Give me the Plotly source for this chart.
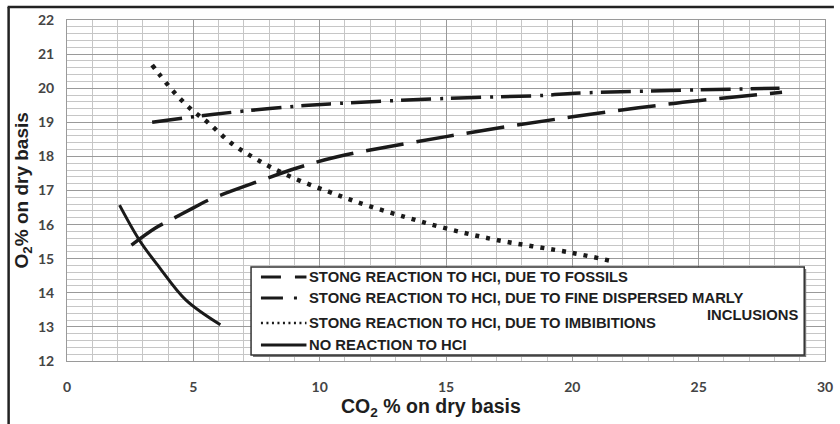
import plotly.graph_objects as go

# ---------------- data ----------------
fossils_x = [2.55, 3.5, 4.0, 5.0, 5.6, 7.7, 9.1, 10.7, 15.0, 20.0, 24.1, 28.3]
fossils_y = [15.40, 15.90, 16.10, 16.49, 16.72, 17.30, 17.66, 17.99, 18.58, 19.16, 19.56, 19.88]

marly_x = [3.37, 5.2, 7.0, 9.4, 10.4, 15.0, 18.9, 20.1, 25.0, 28.2]
marly_y = [19.00, 19.18, 19.33, 19.49, 19.54, 19.70, 19.79, 19.85, 19.95, 20.00]

imbib_x = [3.37, 3.64, 4.23, 4.9, 5.6, 6.5, 7.56, 8.86, 10.7, 11.6, 13.4, 15.1, 17.0, 20.0, 21.5]
imbib_y = [20.68, 20.42, 19.89, 19.39, 18.98, 18.39, 17.89, 17.40, 16.87, 16.63, 16.22, 15.87, 15.55, 15.17, 14.94]

noreact_x = [2.08, 2.86, 3.64, 4.7, 6.07]
noreact_y = [16.57, 15.55, 14.76, 13.79, 13.06]

legend_labels = [
    "STONG REACTION TO HCI, DUE TO FOSSILS",
    "STONG REACTION TO HCI, DUE TO FINE DISPERSED MARLY",
    "STONG REACTION TO HCI, DUE TO IMBIBITIONS",
    "NO REACTION TO HCI",
]
legend_extra = "INCLUSIONS"

x_ticks = [0, 5, 10, 15, 20, 25, 30]
y_ticks = [12, 13, 14, 15, 16, 17, 18, 19, 20, 21, 22]

# ---------------- layout geometry ----------------
W, H = 840, 424
ML, MR, MT, MB = 67, 7, 20, 63
PW, PH = W - ML - MR, H - MT - MB


def px(x):
    return (x - ML) / PW


def py(y):
    return (H - MB - y) / PH


INK = "#1a1a1a"
dash_fossil = "38px,13px"
dash_marly = "30px,9px,3px,8px"
dash_imbib = "4px,7px"

fig = go.Figure()
fig.add_trace(go.Scatter(x=fossils_x, y=fossils_y, mode="lines", line_shape="spline",
                         line=dict(color=INK, width=3.5, dash=dash_fossil), showlegend=False))
fig.add_trace(go.Scatter(x=marly_x, y=marly_y, mode="lines", line_shape="spline",
                         line=dict(color=INK, width=3.5, dash=dash_marly), showlegend=False))
fig.add_trace(go.Scatter(x=imbib_x, y=imbib_y, mode="lines", line_shape="spline",
                         line=dict(color=INK, width=4.5, dash=dash_imbib), showlegend=False))
fig.add_trace(go.Scatter(x=noreact_x, y=noreact_y, mode="lines", line_shape="spline",
                         line=dict(color=INK, width=3, dash="solid"), showlegend=False))

tickfont = dict(family="Lato", size=14, color="#444444", weight="bold")
fig.update_xaxes(range=[0, 30], tickvals=x_ticks, ticktext=[str(v) for v in x_ticks],
                 showgrid=True, gridcolor="#9a9a9a", gridwidth=1,
                 minor=dict(dtick=1, showgrid=True, gridcolor="#c6c6c6", gridwidth=1),
                 showline=True, linecolor="#9a9a9a", linewidth=1, mirror=True,
                 zeroline=False, ticks="", tickfont=tickfont, ticklabelstandoff=13,
                 ticklabeloverflow="allow")
fig.update_yaxes(range=[12, 22], tickvals=y_ticks, ticktext=[str(v) for v in y_ticks],
                 showgrid=True, gridcolor="#9a9a9a", gridwidth=1,
                 minor=dict(dtick=0.2, showgrid=True, gridcolor="#c6c6c6", gridwidth=1),
                 showline=True, linecolor="#9a9a9a", linewidth=1, mirror=True,
                 zeroline=False, ticks="", tickfont=tickfont, ticklabelstandoff=9,
                 ticklabeloverflow="allow")

shapes = []
annotations = []

# outer figure border (left and top)
shapes.append(dict(type="line", xref="paper", yref="paper", x0=px(8), x1=px(8), y0=py(7), y1=py(H + 2),
                   line=dict(color="#222222", width=2.5)))
shapes.append(dict(type="line", xref="paper", yref="paper", x0=px(7), x1=px(W + 2), y0=py(7), y1=py(7),
                   line=dict(color="#222222", width=2.5)))

# legend box with slight shadow
L_left, L_right, L_top, L_bot = 253, 812, 267, 355
shapes.append(dict(type="rect", xref="paper", yref="paper", x0=px(L_left + 2), x1=px(L_right + 2),
                   y0=py(L_bot + 2), y1=py(L_top + 2), line=dict(width=0), fillcolor="#777777", layer="above"))
shapes.append(dict(type="rect", xref="paper", yref="paper", x0=px(L_left), x1=px(L_right),
                   y0=py(L_bot), y1=py(L_top), line=dict(color="#333333", width=1.5),
                   fillcolor="white", layer="above"))

rows_y = [277, 298, 323, 345]
samples = [
    dict(dash="20px,14px", width=3),
    dict(dash="22px,11px,3px,11px", width=3),
    dict(dash="2px,3.5px", width=2.5),
    dict(dash="solid", width=3),
]
legend_font = dict(family="Liberation Sans", size=14.8, color="#1e1e1e", weight="bold")
for ry, lab, smp in zip(rows_y, legend_labels, samples):
    shapes.append(dict(type="line", xref="paper", yref="paper", x0=px(263), x1=px(309),
                       y0=py(ry), y1=py(ry), layer="above",
                       line=dict(color=INK, width=smp["width"], dash=smp["dash"])))
    annotations.append(dict(xref="paper", yref="paper", x=px(310), y=py(ry), text=lab,
                            showarrow=False, xanchor="left", yanchor="middle", font=legend_font))
annotations.append(dict(xref="paper", yref="paper", x=px(808), y=py(315), text=legend_extra,
                        showarrow=False, xanchor="right", yanchor="middle", font=legend_font))

# axis titles
annotations.append(dict(xref="paper", yref="paper", x=px(435), y=py(408),
                        text="CO<sub>2</sub> % on dry basis", showarrow=False,
                        xanchor="center", yanchor="middle",
                        font=dict(family="Liberation Sans", size=19.5, color="#1e1e1e", weight="bold")))
annotations.append(dict(xref="paper", yref="paper", x=px(23), y=py(190),
                        text="O<sub>2</sub>% on dry basis", showarrow=False, textangle=-90,
                        xanchor="center", yanchor="middle",
                        font=dict(family="Liberation Sans", size=19, color="#1e1e1e", weight="bold")))

fig.update_layout(width=W, height=H, margin=dict(l=ML, r=MR, t=MT, b=MB),
                  paper_bgcolor="white", plot_bgcolor="white", showlegend=False,
                  shapes=shapes, annotations=annotations)

fig.write_html("out.html", post_script="document.body.style.margin='0';",
               config={"displayModeBar": False})
